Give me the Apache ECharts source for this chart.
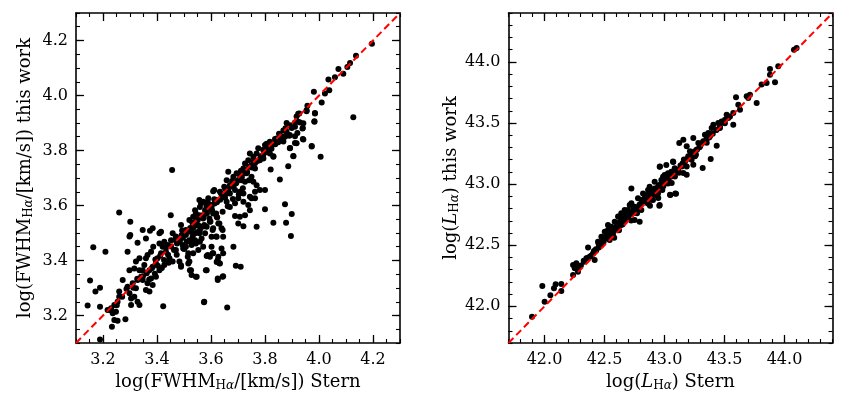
<!DOCTYPE html>
<html>
<head>
<meta charset="utf-8">
<script src="https://cdn.jsdelivr.net/npm/echarts@6/dist/echarts.min.js"></script>
<style>
html, body { margin: 0; padding: 0; background: #fff; }
#chart { width: 850px; height: 400px; }
</style>
</head>
<body>
<div id="chart"></div>
<script>
// left panel: [Stern, this work] log FWHM
var fwhm_points = [
	[3.456,3.729],[3.260,3.575],[3.301,3.541],[3.301,3.493],[3.164,3.448],[3.209,3.432],[3.152,3.327],[3.189,3.301],
	[3.172,3.287],[3.143,3.236],[3.189,3.232],[3.189,3.113],[3.233,3.159],[3.283,3.186],[3.423,3.234],[3.575,3.250],
	[3.451,3.565],[3.217,3.220],[3.230,3.226],[3.242,3.238],[3.254,3.250],[3.260,3.268],[3.236,3.208],[3.248,3.214],
	[3.242,3.184],[3.254,3.181],[3.260,3.287],[3.273,3.329],[3.291,3.305],[3.298,3.281],[3.304,3.262],[3.316,3.268],
	[3.328,3.250],[3.304,3.238],[3.335,3.238],[3.322,3.299],[3.310,3.317],[3.328,3.329],[3.341,3.341],[3.347,3.365],
	[3.335,3.365],[3.316,3.371],[3.298,3.365],[3.322,3.396],[3.335,3.408],[3.359,3.408],[3.353,3.384],[3.365,3.420],
	[3.378,3.432],[3.386,3.450],[3.372,3.365],[3.384,3.377],[3.396,3.390],[3.402,3.408],[3.415,3.426],[3.421,3.450],
	[3.409,3.462],[3.427,3.468],[3.440,3.456],[3.452,3.474],[3.470,3.487],[3.458,3.499],[3.489,3.529],[3.470,3.438],
	[3.483,3.468],[3.495,3.456],[3.507,3.450],[3.520,3.474],[3.507,3.493],[3.526,3.511],[3.538,3.529],[3.551,3.547],
	[3.569,3.565],[3.581,3.584],[3.600,3.602],[3.619,3.620],[3.637,3.644],[3.649,3.668],[3.612,3.656],[3.588,3.614],
	[3.563,3.608],[3.544,3.571],[3.520,3.547],[3.507,3.511],[3.532,3.487],[3.544,3.462],[3.557,3.499],[3.575,3.529],
	[3.594,3.553],[3.619,3.571],[3.643,3.577],[3.606,3.511],[3.619,3.487],[3.643,3.511],[3.631,3.535],[3.588,3.420],
	[3.606,3.426],[3.625,3.402],[3.631,3.390],[3.581,3.365],[3.643,3.341],[3.625,3.335],[3.544,3.341],[3.526,3.365],
	[3.520,3.396],[3.514,3.414],[3.483,3.396],[3.489,3.377],[3.433,3.432],[3.446,3.408],[3.458,3.396],[3.427,3.384],
	[3.409,3.365],[3.396,3.341],[3.378,3.335],[3.365,3.317],[3.347,3.329],[3.359,3.293],[3.372,3.287],[3.384,3.311],
	[3.359,3.480],[3.384,3.517],[3.374,3.508],[3.347,3.511],[3.298,3.487],[3.291,3.432],[3.328,3.465],[3.409,3.499],
	[3.415,3.505],
	[3.927,3.935],[3.954,3.943],[3.985,3.935],[3.983,3.905],[3.923,3.905],[3.942,3.899],[3.939,3.880],[3.911,3.886],
	[3.892,3.892],[3.880,3.868],[3.892,3.856],[3.874,3.850],[3.911,3.852],[3.942,3.840],[3.917,3.826],[3.892,3.808],
	[3.973,3.816],[4.006,3.777],[3.905,3.780],[3.862,3.838],[3.843,3.844],[3.831,3.826],[3.818,3.832],[3.800,3.820],
	[3.794,3.802],[3.818,3.789],[3.831,3.777],[3.775,3.808],[3.769,3.789],[3.757,3.777],[3.744,3.789],[3.738,3.765],
	[3.726,3.753],[3.750,3.747],[3.763,3.735],[3.781,3.765],[3.794,3.771],[3.821,3.731],[3.855,3.695],[3.886,3.743],
	[3.750,3.705],[3.732,3.717],[3.720,3.735],[3.707,3.711],[3.695,3.717],[3.683,3.705],[3.664,3.723],[3.658,3.692],
	[3.670,3.674],[3.695,3.686],[3.713,3.692],[3.726,3.686],[3.757,3.686],[3.769,3.674],[3.781,3.656],[3.800,3.656],
	[3.763,3.650],[3.744,3.632],[3.720,3.644],[3.707,3.650],[3.689,3.656],[3.670,3.644],[3.652,3.662],[3.633,3.650],
	[3.608,3.652],[3.645,3.632],[3.658,3.614],[3.670,3.595],[3.689,3.608],[3.701,3.626],[3.720,3.614],[3.738,3.602],
	[3.750,3.626],[3.763,3.626],[3.744,3.583],[3.726,3.565],[3.707,3.559],[3.689,3.562],[3.701,3.535],[3.720,3.525],
	[3.769,3.523],[3.800,3.586],[3.831,3.537],[3.874,3.605],[3.899,3.569],[3.878,3.537],[3.896,3.489],[3.683,3.450],
	[3.645,3.426],[3.639,3.444],[3.627,3.414],[3.608,3.426],[3.602,3.450],[3.596,3.414],[3.584,3.416],[3.621,3.395],
	[3.633,3.389],[3.692,3.381],[3.710,3.377],[3.645,3.343],[3.625,3.329],[3.584,3.365],[3.547,3.341],[3.528,3.347],
	[3.574,3.248],[3.660,3.229],[3.557,3.620],[3.571,3.614],[3.590,3.626],[3.559,3.595],[3.541,3.583],[3.553,3.559],
	[3.534,3.559],[3.578,3.583],[3.602,3.595],[3.608,3.571],[3.621,3.559],[3.596,3.541],[3.627,3.535],[3.639,3.517],
	[3.645,3.486],[3.621,3.486],[3.602,3.486],[3.578,3.499],[3.559,3.511],[3.541,3.499],[3.522,3.505],[3.504,3.499],
	[3.491,3.492],[3.485,3.474],[3.510,3.468],[3.528,3.456],[3.541,3.474],[3.559,3.468],[3.571,3.450],[3.553,3.438],
	[3.534,3.426],[3.516,3.426],[3.497,3.444],[3.489,3.383],[3.516,3.389],[3.522,3.365],[3.565,3.480],[3.584,3.523],
	[3.608,3.517],[3.571,3.553],
	[4.196,4.188],[4.137,4.145],[4.115,4.118],[4.105,4.104],[4.090,4.079],[4.072,4.096],[4.059,4.066],[4.035,4.058],
	[4.038,4.019],[4.022,4.007],[4.010,3.975],[3.981,4.014],[3.957,3.963],[3.954,3.946],[3.985,3.936],[3.983,3.906],
	[4.127,3.921],[3.923,3.934],[3.917,3.924],[3.930,3.902],[3.911,3.902],[3.880,3.900],[3.899,3.882],[3.940,3.882],
	[3.920,3.864],[3.940,3.842],[3.890,3.854],[3.868,3.873],[3.862,3.852],[3.837,3.842],[3.849,3.830],[3.825,3.821],
	[3.806,3.825],[3.794,3.803],[3.812,3.797],[3.831,3.779],[3.905,3.779],[3.893,3.809],[3.911,3.827],[3.973,3.815],
	[3.785,3.779],[3.868,3.833],
	[3.362,3.354],[3.381,3.372],[3.394,3.404],[3.403,3.381],[3.412,3.417],[3.426,3.402],[3.434,3.447],[3.441,3.421],
	[3.452,3.451],[3.463,3.438],[3.474,3.462],[3.482,3.479],[3.496,3.483],[3.503,3.497],[3.514,3.506],[3.523,3.518],
	[3.536,3.521],[3.544,3.543],[3.553,3.528],[3.562,3.556],[3.573,3.561],[3.585,3.572],[3.593,3.586],[3.604,3.583],
	[3.613,3.607],[3.622,3.612],[3.634,3.621],[3.641,3.637],[3.653,3.641],[3.664,3.653],[3.672,3.668],[3.684,3.672],
	[3.693,3.681],[3.703,3.694],[3.714,3.703],[3.722,3.716],[3.734,3.722],[3.741,3.741],[3.752,3.738],[3.763,3.754],
	[3.772,3.762],[3.784,3.771],[3.793,3.784],[3.801,3.793],[3.348,3.343],[3.327,3.334],[3.312,3.301],[3.287,3.296],
	[3.271,3.268],[3.251,3.237],[3.228,3.219],[3.571,3.524],[3.598,3.542],[3.623,3.556],[3.548,3.503],[3.662,3.597],
	[3.681,3.624],[3.703,3.641],[3.718,3.663],[3.741,3.692],[3.532,3.474],[3.501,3.442],[3.473,3.421],[3.443,3.392],
	[3.418,3.373],[3.392,3.352],[3.371,3.331],
	[3.812,3.812],[3.824,3.806],[3.838,3.823],[3.852,3.861],[3.864,3.842],[3.876,3.881],[3.758,3.761],[3.711,3.726],
	[3.678,3.689],[3.652,3.628],[3.612,3.623],[3.583,3.598],[3.556,3.565],[3.531,3.537],[3.493,3.509],[3.467,3.475]
];

// right panel: [Stern, this work] log L_Halpha
var lum_points = [
	[41.896,41.915],[41.982,42.166],[42.001,42.038],[42.049,42.090],[42.079,42.147],[42.093,42.180],[42.140,42.182],
	[42.140,42.125],[42.238,42.338],[42.265,42.352],[42.252,42.311],[42.238,42.256],[42.279,42.283],[42.293,42.324],
	[42.329,42.365],[42.363,42.482],[42.377,42.406],[42.404,42.433],[42.432,42.461],[42.446,42.529],[42.474,42.502],
	[42.488,42.556],[42.515,42.583],[42.529,42.624],[42.543,42.543],[42.571,42.583],[42.585,42.624],[42.599,42.652],
	[42.627,42.693],[42.640,42.665],[42.654,42.720],[42.668,42.693],[42.682,42.747],[42.696,42.788],[42.710,42.829],
	[42.724,42.965],[42.738,42.761],[42.751,42.706],[42.765,42.788],[42.793,42.693],[42.793,42.829],[42.807,42.870],
	[42.835,42.911],[42.849,42.856],[42.863,42.952],[42.890,42.924],[42.918,42.965],[42.946,42.979],[42.932,42.911],
	[42.960,42.829],[42.974,43.033],[43.001,43.074],[42.960,43.143],[43.015,43.156],[43.071,43.184],[43.049,42.911],
	[43.090,42.924],[43.029,43.006],[43.057,43.102],[43.085,43.129],[42.418,42.379],[42.502,42.611],[42.557,42.652],
	[42.613,42.734],[42.668,42.788],[42.724,42.843],[42.779,42.884],[42.821,42.924],[42.876,42.979],[42.918,43.020],
	[42.988,43.061],[43.029,43.088],[42.349,42.393],[42.474,42.570],[42.529,42.665],[42.585,42.693],[42.640,42.761],
	[42.696,42.734],[42.751,42.815],[42.807,42.788],[42.863,42.884],[42.904,42.870],[42.946,42.924],
	[44.101,44.114],[44.079,44.100],[43.948,43.964],[43.879,43.942],[43.879,43.895],[43.921,43.833],[43.851,43.827],
	[43.809,43.814],[43.768,43.663],[43.712,43.732],[43.685,43.718],[43.698,43.704],[43.596,43.710],[43.615,43.650],
	[43.629,43.609],[43.573,43.582],[43.546,43.554],[43.573,43.486],[43.518,43.568],[43.504,43.527],[43.476,43.513],
	[43.448,43.500],[43.407,43.486],[43.393,43.459],[43.435,43.445],[43.462,43.459],[43.365,43.418],[43.337,43.404],
	[43.379,43.391],[43.435,43.314],[43.240,43.377],[43.157,43.363],[43.123,43.336],[43.323,43.350],[43.296,43.309],
	[43.282,43.336],[43.268,43.282],[43.240,43.254],[43.212,43.268],[43.198,43.227],[43.226,43.200],[43.254,43.227],
	[43.385,43.205],[43.171,43.186],[43.185,43.145],[43.143,43.145],[43.073,43.181],[43.115,43.104],[43.157,43.091],
	[43.185,43.077],[43.240,43.159],[43.318,43.132],[43.087,43.063],[43.046,43.063],[43.018,43.077],[43.032,43.036],
	[43.004,43.022],[42.962,43.145],[43.060,43.009],[42.990,42.982],[42.962,42.968],[42.935,42.954],[42.907,42.941],
	[42.879,42.913],[42.921,42.913],[43.046,42.913],[43.096,42.922],[42.948,42.886],[42.893,42.872],[42.957,42.823],
	[42.879,42.823],[43.185,43.309],
	[42.303,42.334],[42.327,42.372],[42.362,42.398],[42.388,42.414],[42.412,42.452],[42.428,42.468],[42.452,42.481],
	[42.471,42.523],[42.493,42.528],[42.508,42.554],[42.532,42.581],[42.551,42.597],[42.573,42.612],[42.592,42.634],
	[42.607,42.661],[42.633,42.668],[42.651,42.694],[42.672,42.712],[42.688,42.731],[42.713,42.752],[42.731,42.771],
	[42.752,42.781],[42.774,42.803],[42.792,42.832],[42.812,42.848],[42.834,42.862],[42.851,42.883],[42.872,42.897],
	[42.893,42.921],[42.908,42.932],[42.932,42.953],[42.951,42.968],[42.973,42.992],[42.992,43.012],[43.013,43.031],
	[43.031,43.052],[43.052,43.061],[43.072,43.093],[43.091,43.112],[43.112,43.118],[43.133,43.152],[43.151,43.171],
	[43.172,43.193],[43.191,43.208],[43.213,43.221],[43.231,43.253],[43.252,43.268],[43.271,43.283],[43.292,43.301],
	[43.311,43.332],[43.331,43.348],[43.352,43.371],[43.372,43.381],[43.402,43.412],[43.431,43.442],[43.462,43.473],
	[43.503,43.497],[43.532,43.541],[42.521,42.602],[42.581,42.561],[42.621,42.623],[42.682,42.741],[42.722,42.703],
	[42.771,42.762],[42.822,42.871],[42.861,42.842],[42.982,42.951],[43.022,43.052],[43.121,43.092],[43.162,43.201],
	[43.262,43.241],[43.301,43.322],[43.352,43.338],[42.451,42.512],[42.562,42.631],[42.652,42.671],[42.742,42.802],
	[42.871,42.923],[42.953,42.992]
];

var fwhm_range = [3.1, 4.3];
var fwhm_major = [3.2, 3.4, 3.6, 3.8, 4.0, 4.2];
var fwhm_minor_step = 0.05;

var lum_range = [41.7, 44.4];
var lum_major = [42.0, 42.5, 43.0, 43.5, 44.0];
var lum_minor_step = 0.1;

var serif = 'DejaVu Serif';

var chartDom = document.getElementById('chart');
var myChart = echarts.init(chartDom);

// four axes per side-pair: main (labels, long ticks, frame), minor ticks, and the mirrored pair
function make_axes(dim, gridIndex, range, major, minorStep, name) {
	var sides = dim == 'x' ? ['bottom', 'top'] : ['left', 'right'];
	var list = [];
	sides.forEach(function(pos, k) {
		list.push({
			type: 'value',
			gridIndex: gridIndex,
			position: pos,
			min: range[0],
			max: range[1],
			name: k == 0 ? name : '',
			nameLocation: 'middle',
			nameGap: dim == 'x' ? 24 : (gridIndex == 0 ? 40 : 42),
			nameTextStyle: {
				fontFamily: serif,
				fontSize: 18,
				color: '#000',
				rich: {
					a: { fontFamily: serif, fontSize: 18, color: '#000', lineHeight: 22 },
					i: { fontFamily: serif, fontSize: 18, fontStyle: 'italic', color: '#000', lineHeight: 22 },
					s: { fontFamily: serif, fontSize: 12, color: '#000', lineHeight: 15, padding: [7, 0, 0, 0] },
					si: { fontFamily: serif, fontSize: 12, fontStyle: 'italic', color: '#000', lineHeight: 15, padding: [7, 0, 0, 0] }
				}
			},
			axisLine: { show: true, onZero: false, lineStyle: { color: '#000', width: 1.6 } },
			axisTick: { show: true, inside: true, length: 8, customValues: major, lineStyle: { color: '#000', width: 1.3 } },
			axisLabel: {
				show: k == 0,
				customValues: major,
				margin: dim == 'x' ? 9 : 8,
				fontFamily: serif,
				fontSize: 16,
				color: '#000',
				formatter: function(v) { return v.toFixed(1); }
			},
			splitLine: { show: false }
		});
		list.push({
			type: 'value',
			gridIndex: gridIndex,
			position: pos,
			min: range[0],
			max: range[1],
			interval: minorStep,
			axisLine: { show: false, onZero: false },
			axisTick: { show: true, inside: true, length: 4, lineStyle: { color: '#000', width: 1.1 } },
			axisLabel: { show: false },
			splitLine: { show: false }
		});
	});
	return list;
}

var fwhm_x_name = '{a|log(FWHM}{s|H}{si|α}{a|/[km/s]) Stern}';
var fwhm_y_name = '{a|log(FWHM}{s|H}{si|α}{a|/[km/s]) this work}';
var lum_x_name = '{a|log(}{i|L}{s|H}{si|α}{a|) Stern}';
var lum_y_name = '{a|log(}{i|L}{s|H}{si|α}{a|) this work}';

var xAxes = make_axes('x', 0, fwhm_range, fwhm_major, fwhm_minor_step, fwhm_x_name)
	.concat(make_axes('x', 1, lum_range, lum_major, lum_minor_step, lum_x_name));
var yAxes = make_axes('y', 0, fwhm_range, fwhm_major, fwhm_minor_step, fwhm_y_name)
	.concat(make_axes('y', 1, lum_range, lum_major, lum_minor_step, lum_y_name));

var option = {
	animation: false,
	backgroundColor: '#fff',
	grid: [
		{ left: 76, top: 13, width: 324, height: 330 },
		{ left: 508.5, top: 13, width: 324, height: 330 }
	],
	xAxis: xAxes,
	yAxis: yAxes,
	series: [{
		type: 'scatter',
		xAxisIndex: 0,
		yAxisIndex: 0,
		data: fwhm_points,
		symbolSize: 6,
		itemStyle: { color: '#000', opacity: 1 },
		silent: true,
		z: 2
	}, {
		type: 'line',
		xAxisIndex: 0,
		yAxisIndex: 0,
		data: [[fwhm_range[0], fwhm_range[0]], [fwhm_range[1], fwhm_range[1]]],
		symbol: 'none',
		lineStyle: { color: '#ff0000', width: 2, type: [7, 4] },
		silent: true,
		z: 3
	}, {
		type: 'scatter',
		xAxisIndex: 4,
		yAxisIndex: 4,
		data: lum_points,
		symbolSize: 6,
		itemStyle: { color: '#000', opacity: 1 },
		silent: true,
		z: 2
	}, {
		type: 'line',
		xAxisIndex: 4,
		yAxisIndex: 4,
		data: [[lum_range[0], lum_range[0]], [lum_range[1], lum_range[1]]],
		symbol: 'none',
		lineStyle: { color: '#ff0000', width: 2, type: [7, 4] },
		silent: true,
		z: 3
	}]
};

myChart.setOption(option);
</script>
</body>
</html>
